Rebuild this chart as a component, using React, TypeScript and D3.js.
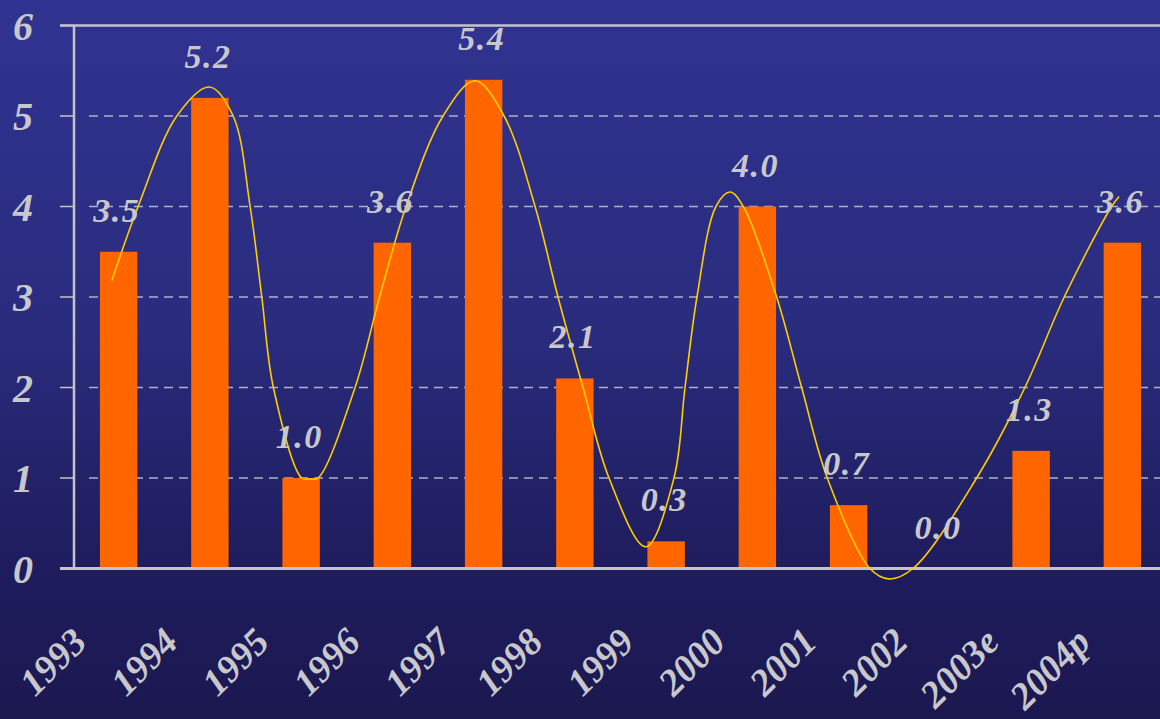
import React from "react";
import * as d3 from "d3";

const categories = ["1993", "1994", "1995", "1996", "1997", "1998", "1999", "2000", "2001", "2002", "2003e", "2004p"];
const values = [3.5, 5.2, 1.0, 3.6, 5.4, 2.1, 0.3, 4.0, 0.7, 0.0, 1.3, 3.6];
const yTicks = [0, 1, 2, 3, 4, 5, 6];

// trend curve: position in category units (0 = first category centre), value
const trendPos = [-0.075, 0.214, 0.638, 0.995, 1.255, 1.441, 1.569, 1.696, 2.007, 2.098, 2.186, 2.591, 2.86, 3.15, 3.555, 3.906, 4.224, 4.564, 4.815, 5.089, 5.374, 5.776, 6.086, 6.207, 6.338, 6.546, 6.7, 6.845, 7.211, 7.485, 7.766, 8.233, 8.442, 8.705, 9.403, 9.932, 10.363, 10.882, 10.965];
const trendVal = [3.18, 4.0, 5.0, 5.32, 5.0, 4.0, 3.0, 2.0, 1.0, 0.99, 1.0, 2.0, 3.0, 4.0, 5.0, 5.39, 5.0, 4.0, 3.0, 2.0, 1.0, 0.24, 1.0, 2.0, 3.0, 4.0, 4.16, 4.0, 3.0, 2.0, 1.0, 0.0, -0.115, 0.0, 1.0, 2.0, 3.0, 4.0, 4.11];

const W = 1160;
const H = 719;
const FONT = "'Times New Roman', 'Liberation Serif', serif";
const TEXT = "#c8c8cc";

export default function App() {
  const x = d3.scaleBand<string>().domain(categories).range([73, 1168]).paddingInner(0.59).paddingOuter(0.295);
  const y = d3.scaleLinear().domain([0, 6]).range([568.5, 25.5]);
  const c0 = (x(categories[0]) as number) + x.bandwidth() / 2;
  const cN = (x(categories[categories.length - 1]) as number) + x.bandwidth() / 2;
  const xPos = d3.scaleLinear().domain([0, categories.length - 1]).range([c0, cN]);

  const pts: [number, number][] = trendPos.map((p, i) => [xPos(p), y(trendVal[i])]);
  const line = d3.line().curve(d3.curveCatmullRom.alpha(0.5))(pts) || "";

  const axisX = 74;

  return (
    <div style={{ position: "fixed", left: 0, top: 0, width: W, height: H, overflow: "hidden" }}>
      <svg width={W} height={H} style={{ display: "block" }}>
        <defs>
          <linearGradient id="bg" x1="0" y1="0" x2="0" y2="1">
            <stop offset="0" stopColor="#303391" />
            <stop offset="0.45" stopColor="#2a2c7e" />
            <stop offset="0.8" stopColor="#1e1c5c" />
            <stop offset="1" stopColor="#1b1850" />
          </linearGradient>
        </defs>
        <rect x={0} y={0} width={W} height={H} fill="url(#bg)" />

        {/* gridlines */}
        {yTicks.filter((t) => t > 0 && t < 6).map((t) => (
          <line key={"g" + t} x1={89} x2={W} y1={y(t)} y2={y(t)} stroke="#aeb0c8" strokeWidth={1.3} strokeDasharray="9 6" />
        ))}

        {/* bars */}
        {categories.map((c, i) => (
          <rect key={"b" + c} x={x(c)} y={y(values[i])} width={x.bandwidth()} height={y(0) - y(values[i])} fill="#ff6600" />
        ))}

        {/* axes frame */}
        <line x1={60} x2={W} y1={y(6)} y2={y(6)} stroke="#c4c4c8" strokeWidth={2.5} />
        <line x1={axisX} x2={axisX} y1={y(6)} y2={y(0)} stroke="#c4c4c8" strokeWidth={2.5} />
        {yTicks.map((t) => (
          <line key={"tk" + t} x1={60} x2={axisX} y1={y(t)} y2={y(t)} stroke="#c4c4c8" strokeWidth={1.5} />
        ))}
        <line x1={60} x2={W} y1={y(0)} y2={y(0)} stroke="#c4c4c8" strokeWidth={3} />

        {/* trend curve */}
        <path d={line} fill="none" stroke="#ffcc00" strokeWidth={1.6} />

        {/* y tick labels */}
        {yTicks.map((t) => (
          <text key={"yl" + t} x={33} y={y(t)} dy="0.35em" textAnchor="end" fill={TEXT}
            fontFamily={FONT} fontWeight="bold" fontStyle="italic" fontSize={40}>
            {t}
          </text>
        ))}

        {/* value labels */}
        {categories.map((c, i) => (
          <text key={"v" + c} x={(x(c) as number) + x.bandwidth() / 2 - 2} y={y(values[i]) - 30} textAnchor="middle"
            fill={TEXT} fontFamily={FONT} fontWeight="bold" fontStyle="italic" fontSize={34} letterSpacing={1.5}>
            {values[i].toFixed(1)}
          </text>
        ))}

        {/* category labels */}
        {categories.map((c) => {
          const cx = (x(c) as number) + x.bandwidth() / 2 - 30;
          const cy = 644;
          return (
            <text key={"x" + c} x={cx} y={cy} transform={`rotate(-45 ${cx} ${cy})`} textAnchor="end"
              fill={TEXT} fontFamily={FONT} fontWeight="bold" fontStyle="italic" fontSize={38}>
              {c}
            </text>
          );
        })}
      </svg>
    </div>
  );
}
